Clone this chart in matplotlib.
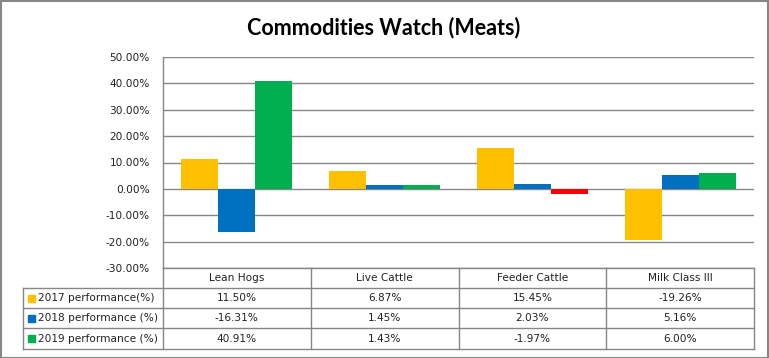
import matplotlib
matplotlib.use("Agg")
from matplotlib import pyplot as plt
from matplotlib.lines import Line2D
from matplotlib.patches import Rectangle
import numpy as np

categories = ["Lean Hogs", "Live Cattle", "Feeder Cattle", "Milk Class III"]
series_names = ["2017 performance(%)", "2018 performance (%)", "2019 performance (%)"]
perf_2017 = [11.50, 6.87, 15.45, -19.26]
perf_2018 = [-16.31, 1.45, 2.03, 5.16]
perf_2019 = [40.91, 1.43, -1.97, 6.00]
y_ticks = [-30, -20, -10, 0, 10, 20, 30, 40, 50]

colors = ["#FFC000", "#0070C0", "#00B050"]
neg_color = "#FF0000"  # 2019 bar turns red when negative
grid_c = "#868686"

W, H = 769, 358
fig = plt.figure(figsize=(W / 100, H / 100), dpi=100)

def fx(px):
    return px / W

def fy(py):
    return 1 - py / H

# plot area in pixel terms
left, right, top, bottom = 163, 754, 57, 268
ax = fig.add_axes([fx(left), fy(bottom), fx(right) - fx(left), fy(top) - fy(bottom)])

series = [perf_2017, perf_2018, perf_2019]
x = np.arange(len(categories))
w = 0.25
for i, vals in enumerate(series):
    cols = [colors[i]] * len(vals)
    if i == 2:
        cols = [neg_color if v < 0 else colors[i] for v in vals]
    ax.bar(x + (i - 1) * w, vals, width=w, color=cols, zorder=3)

ax.set_xlim(-0.5, len(categories) - 0.5)
ax.set_ylim(y_ticks[0], y_ticks[-1])
ax.set_yticks(y_ticks)
ax.set_yticklabels(["%.2f%%" % t for t in y_ticks], fontsize=7.6, color="#222222")
ax.set_xticks([])
ax.grid(axis="y", color=grid_c, linewidth=1.0, zorder=0)
ax.tick_params(axis="y", length=0, pad=9.5)
for s in ["top", "right", "bottom"]:
    ax.spines[s].set_visible(False)
ax.spines["left"].set_color(grid_c)
ax.spines["left"].set_linewidth(1.0)

# title
fig.text(fx(384), fy(28), "Commodities Watch (Meats)", ha="center", va="center",
         fontsize=15.5, fontweight="bold", family="Lato")

# data table below the plot
col_edges = [left + (right - left) * k / len(categories) for k in range(len(categories) + 1)]
row_edges = [268, 288, 308, 328, 349]
lab_left = 23

def hline(y, x0, x1):
    fig.add_artist(Line2D([fx(x0), fx(x1)], [fy(y), fy(y)], color=grid_c, lw=1.0))

def vline(xp, y0, y1):
    fig.add_artist(Line2D([fx(xp), fx(xp)], [fy(y0), fy(y1)], color=grid_c, lw=1.0))

hline(row_edges[0], left, right)
for y in row_edges[1:]:
    hline(y, lab_left, right)
vline(lab_left, row_edges[1], row_edges[-1])
for xp in col_edges:
    vline(xp, row_edges[0], row_edges[-1])

for j, cat in enumerate(categories):
    cx = (col_edges[j] + col_edges[j + 1]) / 2
    fig.text(fx(cx), fy((row_edges[0] + row_edges[1]) / 2), cat, ha="center", va="center",
             fontsize=7.6, color="#222222")
    for i, vals in enumerate(series):
        cy = (row_edges[i + 1] + row_edges[i + 2]) / 2
        fig.text(fx(cx), fy(cy), "%.2f%%" % vals[j], ha="center", va="center",
                 fontsize=7.6, color="#222222")

for i, name in enumerate(series_names):
    cy = (row_edges[i + 1] + row_edges[i + 2]) / 2
    fig.add_artist(Rectangle((fx(28), fy(cy + 3.5)), fx(7), 7 / H, color=colors[i]))
    fig.text(fx(38), fy(cy), name, ha="left", va="center", fontsize=7.6, color="#222222")

# chart border
fig.add_artist(Rectangle((0.5 / W, 0.5 / H), 1 - 1.5 / W, 1 - 1.5 / H, fill=False,
                         edgecolor=grid_c, lw=1.5))

plt.savefig("out.png", dpi=100)
